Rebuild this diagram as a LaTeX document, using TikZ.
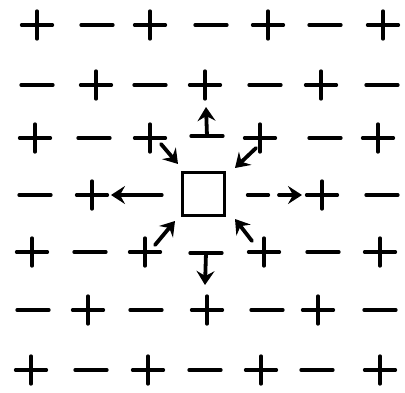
\documentclass[tikz,border=0pt]{standalone}
\usetikzlibrary{arrows.meta}
\tikzset{
  symline/.style={line width=4pt, line cap=round, draw=black},
  minus/.style={inner sep=0pt, minimum width=31pt, minimum height=0pt,
    append after command={(\tikzlastnode.west) edge[symline] (\tikzlastnode.east)}},
  shortminus/.style={minus, minimum width=20pt},
  plus/.style={inner sep=0pt, minimum width=30pt, minimum height=27pt,
    append after command={(\tikzlastnode.west) edge[symline] (\tikzlastnode.east)
      (\tikzlastnode.north) edge[symline] (\tikzlastnode.south)}},
  vac/.style={draw, line width=3pt, inner sep=0pt, minimum width=42pt, minimum height=43pt},
  arr/.style={line width=3.8pt, line cap=round,
    -{Stealth[length=14pt,width=18pt,inset=5pt]}},
}
\begin{document}
\begin{tikzpicture}[x=1pt,y=1pt]
\useasboundingbox (0,0) rectangle (405,-392);
% row 1
\node[plus]  (r1c1) at (37,-25) {};
\node[minus] (r1c2) at (97,-25) {};
\node[plus]  (r1c3) at (150,-25) {};
\node[minus] (r1c4) at (211,-25) {};
\node[plus]  (r1c5) at (268,-25) {};
\node[minus] (r1c6) at (325,-25) {};
\node[plus]  (r1c7) at (383,-25) {};
% row 2
\node[minus] (r2c1) at (37,-85) {};
\node[plus]  (r2c2) at (96,-85) {};
\node[minus] (r2c3) at (150,-85) {};
\node[plus]  (r2c4) at (205,-85) {};
\node[minus] (r2c5) at (265,-85) {};
\node[plus]  (r2c6) at (321,-85) {};
\node[minus] (r2c7) at (382,-85) {};
% row 3
\node[plus]  (r3c1) at (35,-138) {};
\node[minus] (r3c2) at (94,-138) {};
\node[plus]  (r3c3) at (150,-138) {};
\node[minus] (r3c4) at (207,-136) {};
\node[plus]  (r3c5) at (260,-138) {};
\node[minus] (r3c6) at (325,-138) {};
\node[plus]  (r3c7) at (378,-138) {};
% row 4
\node[minus] (r4c1) at (35,-195) {};
\node[plus]  (r4c2) at (92,-195) {};
\node[minus] (r4c3) at (146,-195) {};
\node[vac]   (sq)   at (203.5,-193.5) {};
\node[shortminus] (r4c5) at (258,-195) {};
\node[plus]  (r4c6) at (322,-195) {};
\node[minus] (r4c7) at (382,-195) {};
% row 5
\node[plus]  (r5c1) at (32,-252) {};
\node[minus] (r5c2) at (90,-252) {};
\node[plus]  (r5c3) at (145,-252) {};
\node[minus] (r5c4) at (206,-253) {};
\node[plus]  (r5c5) at (264,-252) {};
\node[minus] (r5c6) at (323,-252) {};
\node[plus]  (r5c7) at (380,-252) {};
% row 6
\node[minus] (r6c1) at (33,-310) {};
\node[plus]  (r6c2) at (88,-310) {};
\node[minus] (r6c3) at (146,-310) {};
\node[plus]  (r6c4) at (207,-310) {};
\node[minus] (r6c5) at (267,-310) {};
\node[plus]  (r6c6) at (318,-310) {};
\node[minus] (r6c7) at (380,-310) {};
% row 7
\node[plus]  (r7c1) at (31,-370) {};
\node[minus] (r7c2) at (91,-370) {};
\node[plus]  (r7c3) at (148,-370) {};
\node[minus] (r7c4) at (205,-370) {};
\node[plus]  (r7c5) at (261,-370) {};
\node[minus] (r7c6) at (317,-370) {};
\node[plus]  (r7c7) at (380,-370) {};
% arrow ends
\coordinate (tU) at (206,-107);
\coordinate (tD) at (205,-285);
\coordinate (tL) at (111,-195);
\coordinate (sR) at (279,-195);
\coordinate (tR) at (302,-195);
\coordinate (sTL) at (161,-144);
\coordinate (tTL) at (178,-164);
\coordinate (sTR) at (256,-148);
\coordinate (tTR) at (235,-168);
\coordinate (sBL) at (155,-245);
\coordinate (tBL) at (175,-221);
\coordinate (sBR) at (252,-241);
\coordinate (tBR) at (235,-219);
% arrows
\draw[arr] (r3c4.center) -- (tU);
\draw[arr] (r5c4.center) -- (tD);
\draw[arr] (r4c3.west) -- (tL);
\draw[arr] (sR) -- (tR);
\draw[arr] (sTL) -- (tTL);
\draw[arr] (sTR) -- (tTR);
\draw[arr] (sBL) -- (tBL);
\draw[arr] (sBR) -- (tBR);
\end{tikzpicture}
\end{document}
